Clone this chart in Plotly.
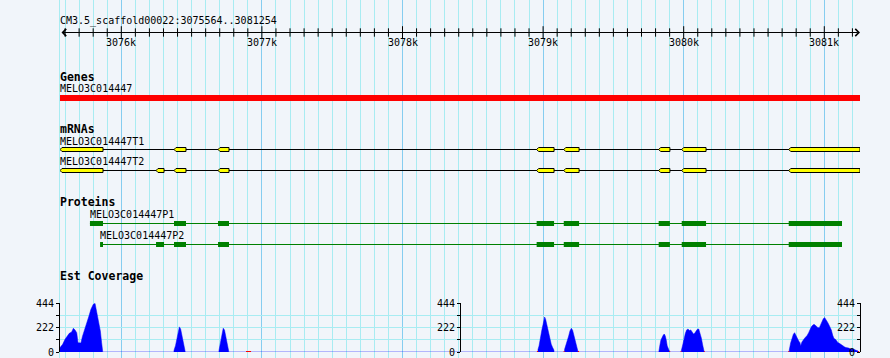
import plotly.graph_objects as go

# ---------------- data ----------------
region_name = "CM3.5_scaffold00022"
region_start = 3075564
region_end = 3081254

major_ticks = [3076000, 3077000, 3078000, 3079000, 3080000, 3081000]
major_labels = ["3076k", "3077k", "3078k", "3079k", "3080k", "3081k"]
minor_ticks = [p for p in range(3075600, 3081300, 100) if p % 1000 != 0]

track_titles = ["Genes", "mRNAs", "Proteins", "Est Coverage"]

gene_name = "MELO3C014447"
gene_start = 3075564
gene_end = 3081254

t1_name = "MELO3C014447T1"
t1_starts = [3075564, 3076375, 3076688, 3078954, 3079147, 3079822, 3079986, 3080747]
t1_ends = [3075870, 3076460, 3076766, 3079078, 3079256, 3079902, 3080159, 3081254]

t2_name = "MELO3C014447T2"
t2_starts = [3075564, 3076247, 3076375, 3076688, 3078954, 3079147, 3079822, 3079986, 3080747]
t2_ends = [3075870, 3076304, 3076460, 3076766, 3079078, 3079256, 3079902, 3080159, 3081254]

p1_name = "MELO3C014447P1"
p1_starts = [3075777, 3076375, 3076688, 3078954, 3079147, 3079822, 3079986, 3080747]
p1_ends = [3075870, 3076460, 3076766, 3079078, 3079256, 3079902, 3080159, 3081126]

p2_name = "MELO3C014447P2"
p2_starts = [3075849, 3076247, 3076375, 3076688, 3078954, 3079147, 3079822, 3079986, 3080747]
p2_ends = [3075870, 3076304, 3076460, 3076766, 3079078, 3079256, 3079902, 3080159, 3081126]

cov_pos = [
    3075564, 3075569, 3075583, 3075600, 3075616, 3075630, 3075647, 3075659, 3075671, 3075683,
    3075692, 3075701, 3075713, 3075723, 3075737, 3075754, 3075770, 3075784, 3075801, 3075813,
    3075825, 3075839, 3075851, 3075860, 3075867, 3075868,
    3076374, 3076375, 3076386, 3076397, 3076407, 3076413, 3076422, 3076432, 3076443, 3076454, 3076455,
    3076694, 3076695, 3076706, 3076716, 3076725, 3076734, 3076745, 3076755, 3076764, 3076765,
    3078963, 3078964, 3078971, 3078978, 3078985, 3078992, 3079000, 3079007, 3079011, 3079018,
    3079025, 3079032, 3079040, 3079049, 3079058, 3079068, 3079077, 3079078,
    3079152, 3079153, 3079163, 3079172, 3079182, 3079191, 3079201, 3079210, 3079220, 3079229,
    3079239, 3079248, 3079249,
    3079823, 3079824, 3079831, 3079838, 3079846, 3079855, 3079862, 3079869, 3079876, 3079883,
    3079893, 3079900, 3079901,
    3079982, 3079983, 3079993, 3080002, 3080012, 3080021, 3080031, 3080040, 3080050, 3080059,
    3080069, 3080078, 3080088, 3080097, 3080107, 3080116, 3080126, 3080135, 3080145, 3080146,
    3080750, 3080751, 3080761, 3080770, 3080780, 3080789, 3080799, 3080808, 3080818, 3080827,
    3080832, 3080841, 3080851, 3080860, 3080870, 3080879, 3080889, 3080898, 3080908, 3080917,
    3080927, 3080936, 3080946, 3080955, 3080965, 3080974, 3080984, 3080993, 3081003, 3081012,
    3081022, 3081031, 3081041, 3081050, 3081060, 3081069, 3081079, 3081088, 3081098, 3081107,
    3081116, 3081126, 3081135, 3081145, 3081154, 3081164, 3081173, 3081183, 3081192, 3081202,
    3081211, 3081221, 3081230, 3081240, 3081241,
]
cov_val = [
    40, 49, 70, 116, 152, 170, 182, 216, 200, 176,
    85, 82, 82, 140, 192, 252, 328, 389, 435, 444,
    374, 268, 192, 85, 24, 0,
    0, 15, 60, 130, 200, 229, 210, 150, 80, 20, 0,
    0, 15, 90, 180, 217, 200, 130, 60, 15, 0,
    0, 24, 55, 116, 161, 207, 252, 304, 319, 298,
    252, 207, 161, 116, 70, 40, 18, 0,
    0, 24, 61, 100, 146, 192, 216, 198, 152, 100,
    55, 24, 0,
    0, 18, 64, 109, 134, 155, 164, 146, 109, 55,
    24, 12, 0,
    0, 12, 64, 125, 170, 201, 210, 195, 201, 185,
    164, 170, 188, 207, 210, 176, 125, 64, 12, 0,
    0, 18, 85, 131, 161, 176, 146, 116, 100, 85,
    55, 91, 116, 125, 140, 152, 176, 207, 231, 243,
    252, 243, 231, 222, 222, 252, 283, 304, 313, 298,
    274, 252, 231, 201, 152, 122, 116, 100, 85, 79,
    70, 61, 49, 46, 40, 40, 36, 30, 30, 24,
    24, 18, 12, 9, 0,
]
cov_max = 444
cov_ticks = [0, 111, 222, 333, 444]
cov_ticktext = ["0", "", "222", "", "444"]

low_starts = [3076887, 3078956, 3079146, 3079248, 3079897, 3079978, 3080145, 3080744, 3081240]
low_ends = [3076923, 3078964, 3079153, 3079256, 3079904, 3079984, 3080150, 3080751, 3081248]

# ---------------- style ----------------
BG = "#F1F5FA"
MINOR = "#A8ECF2"
MAJOR = "#86CDF0"
FONT = "DejaVu Sans Mono"
H = 358
BP_PER_PX = (region_end - region_start) / 800.0
NOTCH = 2 * BP_PER_PX  # strand notch on the left end of each exon

# pixel rows (top-down) of each element
Y_RULER_LABEL = 20.5
Y_RULER = 32.5
Y_TICKLAB = 42
Y_TITLE = {"Genes": 76.5, "mRNAs": 128.5, "Proteins": 201.5, "Est Coverage": 276.2}
Y_GENE_LAB, Y_GENE = 88, 98
Y_T1_LAB, Y_T1 = 141, 149.5
Y_T2_LAB, Y_T2 = 161.5, 170.5
Y_P1_LAB, Y_P1 = 214.3, 223.5
Y_P2_LAB, Y_P2 = 235.3, 244.5
COV_BOTTOM, COV_TOP = 352, 303.3

fig = go.Figure()

# ruler ticks
fig.add_trace(go.Scatter(x=minor_ticks, y=[Y_RULER] * len(minor_ticks), mode="markers",
                         marker=dict(symbol="line-ns", size=6, line=dict(width=1, color="black")),
                         hoverinfo="skip"))
fig.add_trace(go.Scatter(x=major_ticks, y=[Y_RULER] * len(major_ticks), mode="markers",
                         marker=dict(symbol="line-ns", size=9, line=dict(width=1, color="black")),
                         hoverinfo="skip"))


def hbar(starts, ends, ypix, height, color):
    return go.Bar(orientation="h", base=starts, x=[e - s for s, e in zip(starts, ends)],
                  y=[ypix] * len(starts), width=height,
                  marker=dict(color=color, line=dict(width=0)),
                  hoverinfo="skip")


def exon_boxes(starts, ends, ypix, half=2.0):
    xs, ys = [], []
    top, bot = ypix - half, ypix + half
    for s, e in zip(starts, ends):
        xs += [s + NOTCH, e, e, s + NOTCH, s, s + NOTCH, None]
        ys += [top, top, bot, bot, ypix, top, None]
    return go.Scatter(x=xs, y=ys, mode="lines", fill="toself", fillcolor="#FFFF00",
                      line=dict(color="black", width=1), hoverinfo="skip")


def connector(starts, ends, ypix, color):
    return go.Scatter(x=[min(starts), max(ends)], y=[ypix, ypix], mode="lines",
                      line=dict(color=color, width=1), hoverinfo="skip")


# gene
fig.add_trace(hbar([gene_start], [gene_end], Y_GENE, 6, "#FF0000"))

# mRNAs
fig.add_trace(connector(t1_starts, t1_ends, Y_T1, "black"))
fig.add_trace(exon_boxes(t1_starts, t1_ends, Y_T1))
fig.add_trace(connector(t2_starts, t2_ends, Y_T2, "black"))
fig.add_trace(exon_boxes(t2_starts, t2_ends, Y_T2))

# proteins
fig.add_trace(connector(p1_starts, p1_ends, Y_P1, "#008000"))
fig.add_trace(hbar(p1_starts, p1_ends, Y_P1, 5, "#008000"))
fig.add_trace(connector(p2_starts, p2_ends, Y_P2, "#008000"))
fig.add_trace(hbar(p2_starts, p2_ends, Y_P2, 5, "#008000"))

# coverage
fig.add_trace(go.Scatter(x=cov_pos, y=cov_val, yaxis="y2", mode="lines", fill="tozeroy",
                         fillcolor="#0000FF", line=dict(width=0.5, color="#0000FF"),
                         hoverinfo="skip"))
for s, e in zip(low_starts, low_ends):
    fig.add_trace(go.Scatter(x=[s, e], y=[3, 3], yaxis="y2", mode="lines",
                             line=dict(width=1.5, color="#FF0000"), hoverinfo="skip"))
# anchor traces so the extra coverage axes (middle and right) are drawn
for ax_name in ("y3", "y4"):
    fig.add_trace(go.Scatter(x=[region_start], y=[0], yaxis=ax_name, mode="markers",
                             marker=dict(size=1, opacity=0), hoverinfo="skip"))

annotations = []


def label(text, x, y, size=10, bold=False, xanchor="left"):
    annotations.append(dict(text=f"<b>{text}</b>" if bold else text, x=x, y=y, xref="x", yref="y",
                            xanchor=xanchor, yanchor="middle", showarrow=False,
                            font=dict(family=FONT, size=size, color="black"),
                            borderpad=0, xshift=-1 if xanchor == "left" else 0))


label(f"{region_name}:{region_start}..{region_end}", region_start, Y_RULER_LABEL)
for t, lab in zip(major_ticks, major_labels):
    label(lab, t, Y_TICKLAB, xanchor="center")
for t in track_titles:
    label(t, region_start, Y_TITLE[t], size=11.5, bold=True)
label(gene_name, gene_start, Y_GENE_LAB)
label(t1_name, min(t1_starts), Y_T1_LAB)
label(t2_name, min(t2_starts), Y_T2_LAB)
label(p1_name, min(p1_starts), Y_P1_LAB)
label(p2_name, min(p2_starts), Y_P2_LAB)

# ruler line with arrows at both ends
annotations.append(dict(x=region_end, y=Y_RULER, ax=region_start, ay=Y_RULER,
                        xref="x", yref="y", axref="x", ayref="y", text="", showarrow=True,
                        arrowhead=4, startarrowhead=4, arrowside="end+start", arrowsize=1.4,
                        startarrowsize=1.4, arrowwidth=1, arrowcolor="black", standoff=0,
                        startstandoff=0))

cov_axis = dict(range=[0, cov_max], tickvals=cov_ticks, ticktext=cov_ticktext, ticks="outside",
                ticklen=3, tickcolor="black", showline=True, linecolor="black", linewidth=1,
                tickfont=dict(family=FONT, size=10, color="black"), zeroline=False,
                fixedrange=True)

fig.update_layout(
    width=890, height=H, margin=dict(l=60, r=30, t=0, b=0, autoexpand=False),
    paper_bgcolor=BG, plot_bgcolor="rgba(0,0,0,0)", showlegend=False, barmode="overlay",
    annotations=annotations,
    xaxis=dict(range=[region_start, region_end], showticklabels=False, ticks="",
               showgrid=True, gridcolor=MAJOR, gridwidth=1, tick0=3076000, dtick=1000,
               zeroline=False, showline=False,
               minor=dict(tick0=3076000, dtick=100, showgrid=True, gridcolor=MINOR, gridwidth=1)),
    yaxis=dict(range=[H, 0], showticklabels=False, ticks="", showgrid=False, zeroline=False,
               showline=True, linecolor=MINOR, linewidth=1),
    yaxis2=dict(domain=[(H - COV_BOTTOM) / H, (H - COV_TOP) / H], anchor="x", side="left",
                showgrid=True, gridcolor=MINOR, gridwidth=1, **cov_axis),
    yaxis3=dict(overlaying="y2", anchor="free", position=0.5, side="left", showgrid=False, **cov_axis),
    yaxis4=dict(overlaying="y2", anchor="free", position=1.0, side="left", showgrid=False, **cov_axis),
)

fig.write_html("out.html", config={"displayModeBar": False},
               post_script="document.body.style.margin='0';document.body.style.overflow='hidden';")
